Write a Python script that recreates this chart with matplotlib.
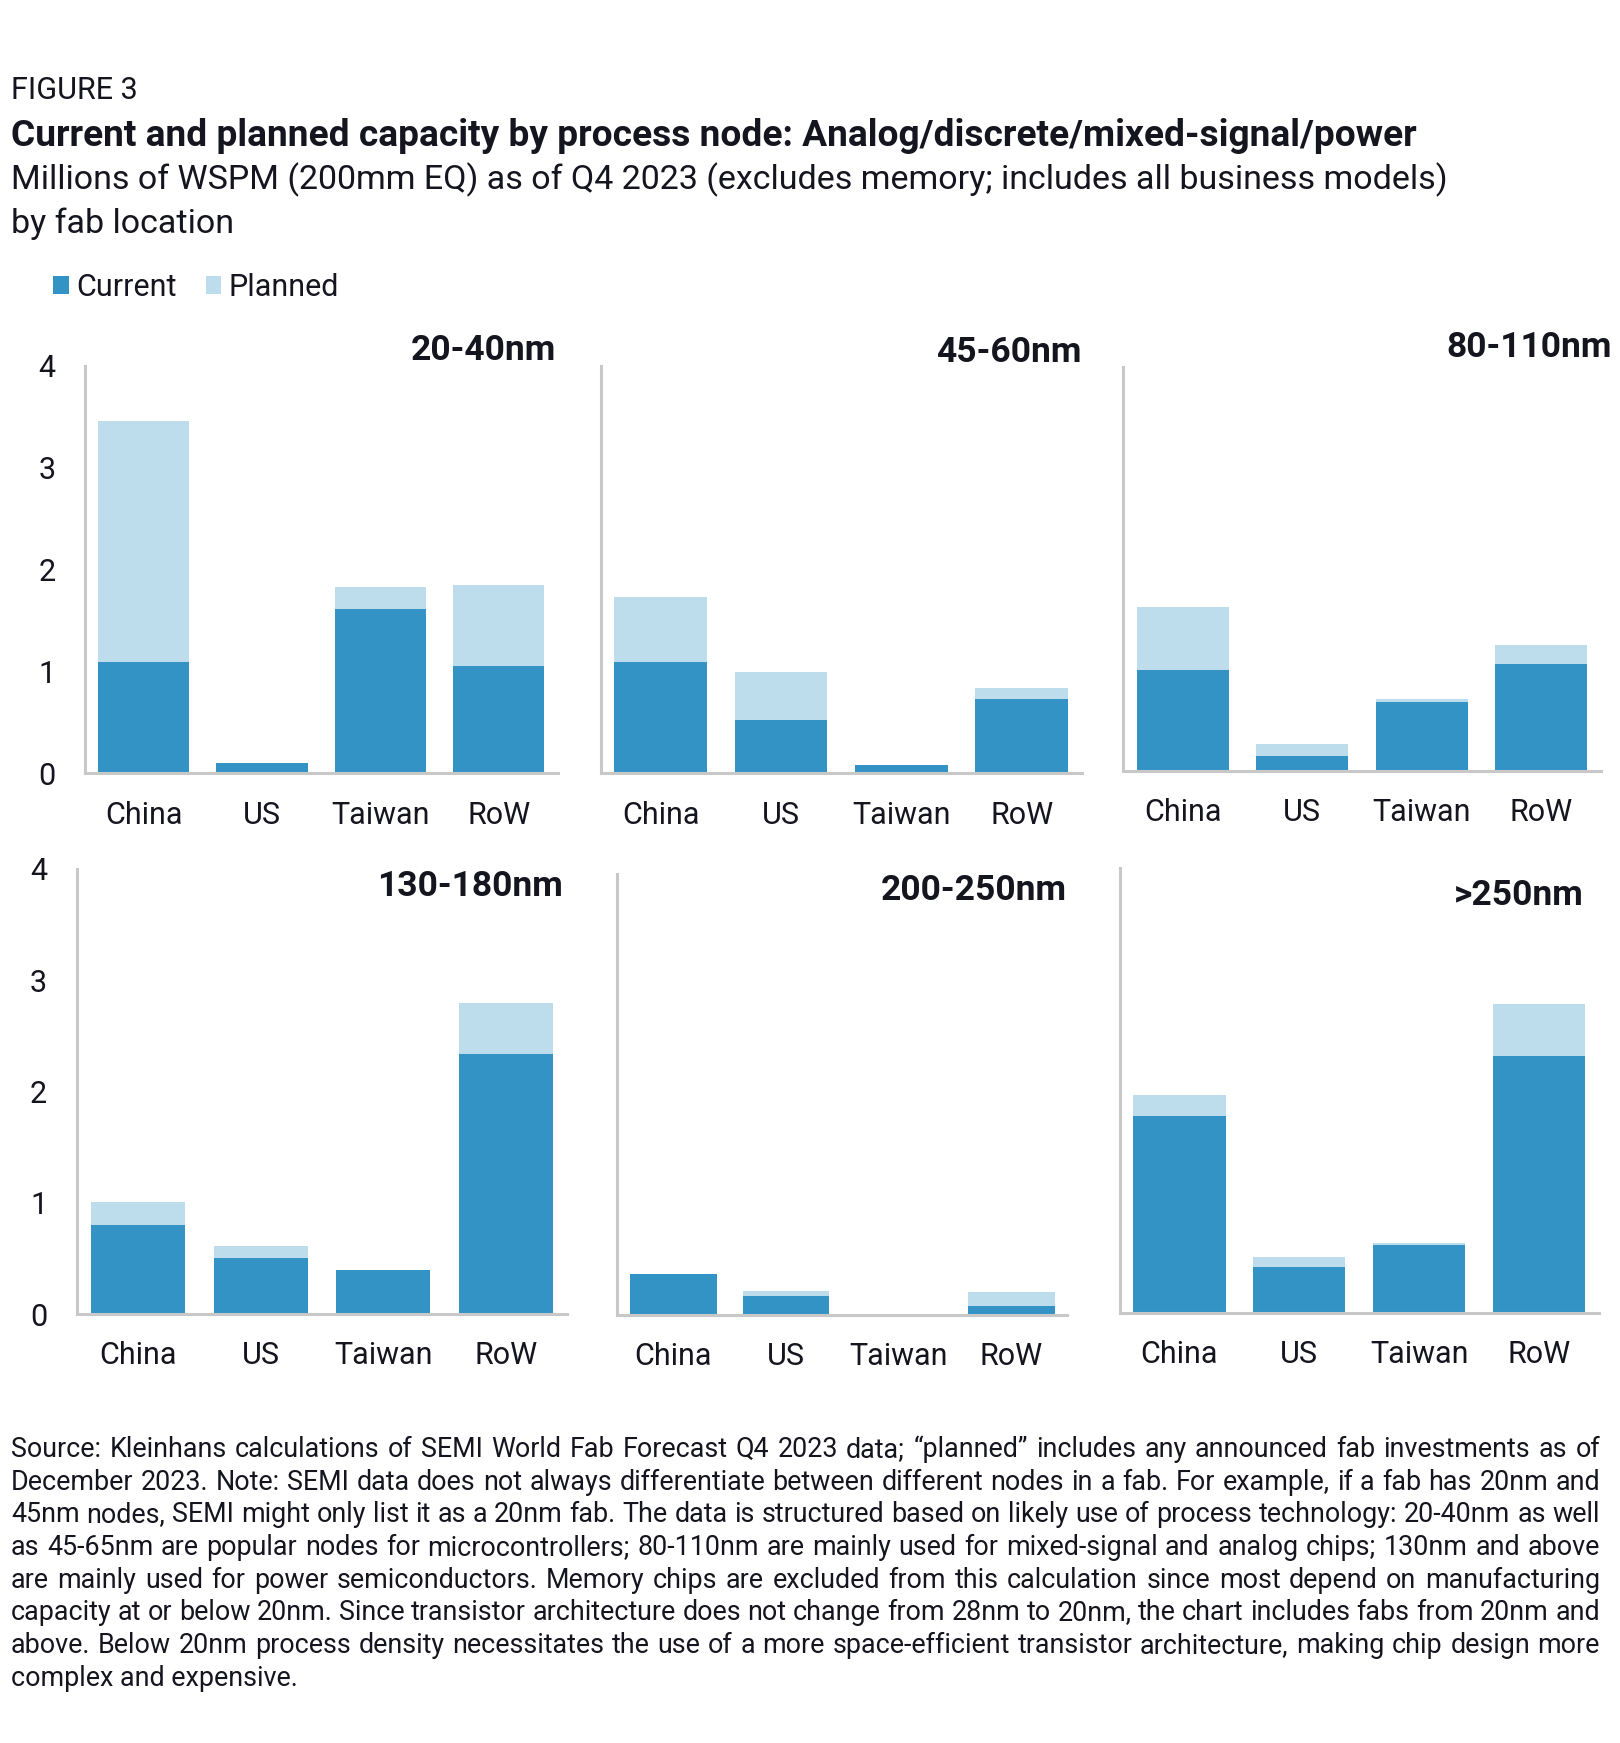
import matplotlib

matplotlib.use("Agg")
import matplotlib.pyplot as plt
from matplotlib.patches import Patch

W, H = 1620, 1743
INK = "#15151F"
CURRENT_C = "#3393C4"
PLANNED_C = "#BDDDEC"
AXIS_C = "#C8C8C8"

LOCATIONS = ["China", "US", "Taiwan", "RoW"]
NODES = ["20-40nm", "45-60nm", "80-110nm", "130-180nm", "200-250nm", ">250nm"]

# millions of WSPM
current_20_40 = [1.09, 0.10, 1.61, 1.06]
planned_20_40 = [2.37, 0.00, 0.22, 0.79]
current_45_60 = [1.09, 0.53, 0.08, 0.73]
planned_45_60 = [0.64, 0.47, 0.00, 0.11]
current_80_110 = [1.00, 0.15, 0.68, 1.06]
planned_80_110 = [0.62, 0.12, 0.03, 0.19]
current_130_180 = [0.80, 0.50, 0.40, 2.34]
planned_130_180 = [0.21, 0.11, 0.00, 0.46]
current_200_250 = [0.37, 0.17, 0.00, 0.08]
planned_200_250 = [0.00, 0.05, 0.00, 0.13]
current_250 = [1.77, 0.41, 0.61, 2.31]
planned_250 = [0.19, 0.09, 0.02, 0.47]

CURRENT = [current_20_40, current_45_60, current_80_110,
           current_130_180, current_200_250, current_250]
PLANNED = [planned_20_40, planned_45_60, planned_80_110,
           planned_130_180, planned_200_250, planned_250]

# axes boxes in pixels: left, top, right, bottom
BOXES = [
    (84.5, 366, 558, 773.5),
    (600.5, 366, 1082, 773.5),
    (1123, 367, 1601, 771),
    (77, 869, 567, 1314),
    (617, 874, 1067.5, 1315),
    (1119.5, 868, 1599, 1313),
]
# panel title anchor: right x, baseline y (pixels)
TITLE_POS = [(556, 360), (1081.5, 362), (1611.5, 357), (563, 896), (1066.5, 900), (1583.5, 905)]

FOOTNOTE = [
    "Source: Kleinhans calculations of SEMI World Fab Forecast Q4 2023 data; \u201cplanned\u201d includes any announced fab investments as of",
    "December 2023. Note: SEMI data does not always differentiate between different nodes in a fab. For example, if a fab has 20nm and",
    "45nm nodes, SEMI might only list it as a 20nm fab. The data is structured based on likely use of process technology: 20-40nm as well",
    "as 45-65nm are popular nodes for microcontrollers; 80-110nm are mainly used for mixed-signal and analog chips; 130nm and above",
    "are mainly used for power semiconductors. Memory chips are excluded from this calculation since most depend on manufacturing",
    "capacity at or below 20nm. Since transistor architecture does not change from 28nm to 20nm, the chart includes fabs from 20nm and",
    "above. Below 20nm process density necessitates the use of a more space-efficient transistor architecture, making chip design more",
    "complex and expensive.",
]


def fx(px):
    return px / W


def fy(py):
    return 1 - py / H


def justified(fig, lines, x0, x1, y0, dy, **kw):
    r = fig.canvas.get_renderer()
    for i, line in enumerate(lines):
        y = fy(y0 + i * dy)
        if i == len(lines) - 1:
            fig.text(fx(x0), y, line, va="baseline", ha="left", **kw)
            continue
        words = line.split(" ")
        texts = [fig.text(0, y, w, va="baseline", ha="left", **kw) for w in words]
        widths = [t.get_window_extent(r).width for t in texts]
        gap = ((x1 - x0) - sum(widths)) / (len(words) - 1)
        x = x0
        for t, w in zip(texts, widths):
            t.set_x(fx(x))
            x += w + gap


def main():
    plt.rcParams["font.family"] = ["Roboto", "DejaVu Sans"]
    fig = plt.figure(figsize=(W / 100, H / 100), dpi=100)
    fig.patch.set_facecolor("white")

    fig.text(fx(11), fy(99), "FIGURE 3", fontsize=22, color=INK, va="baseline")
    fig.text(fx(11), fy(145.5),
             "Current and planned capacity by process node: Analog/discrete/mixed-signal/power",
             fontsize=26.7, fontweight="bold", color=INK, va="baseline")
    fig.text(fx(11), fy(189),
             "Millions of WSPM (200mm EQ) as of Q4 2023 (excludes memory; includes all business models)",
             fontsize=24.5, color=INK, va="baseline")
    fig.text(fx(11), fy(233), "by fab location", fontsize=24.5, color=INK, va="baseline")

    handles = [Patch(facecolor=CURRENT_C, label="Current"),
               Patch(facecolor=PLANNED_C, label="Planned")]
    fig.legend(handles=handles, loc="upper left", bbox_to_anchor=(fx(53.5), fy(273)),
               ncol=2, frameon=False, fontsize=22, handlelength=0.5, handleheight=0.5,
               handletextpad=0.25, columnspacing=0.95, borderpad=0, borderaxespad=0,
               labelcolor=INK)

    for i, (node, cur, plan, box) in enumerate(zip(NODES, CURRENT, PLANNED, BOXES)):
        l, t, r, b = box
        ax = fig.add_axes([fx(l), fy(b), (r - l) / W, (b - t) / H])
        ax.bar(LOCATIONS, cur, width=0.77, color=CURRENT_C, zorder=2)
        ax.bar(LOCATIONS, plan, width=0.77, bottom=cur, color=PLANNED_C, zorder=2)
        ax.set_xlim(-0.5, 3.5)
        ax.set_ylim(0, 4)
        for side in ("top", "right"):
            ax.spines[side].set_visible(False)
        for side in ("left", "bottom"):
            ax.spines[side].set_color(AXIS_C)
            ax.spines[side].set_linewidth(2.2)
            ax.spines[side].set_zorder(3)
        ax.set_yticks([0, 1, 2, 3, 4])
        ax.tick_params(axis="both", length=0, labelsize=22, labelcolor=INK)
        ax.tick_params(axis="x", pad=19.5)
        if i % 3 == 0:
            ax.tick_params(axis="y", pad=21 if i == 0 else 21.5)
        else:
            ax.set_yticklabels([])
        ax.set_facecolor("none")
        tx, ty = TITLE_POS[i]
        fig.text(fx(tx), fy(ty), node, ha="right", va="baseline",
                 fontsize=25.5, fontweight="bold", color=INK)

    justified(fig, FOOTNOTE, 11, 1600, 1457, 32.7, fontsize=19.4, color=INK)

    fig.savefig("out.png", dpi=100, facecolor="white")


if __name__ == "__main__":
    main()
